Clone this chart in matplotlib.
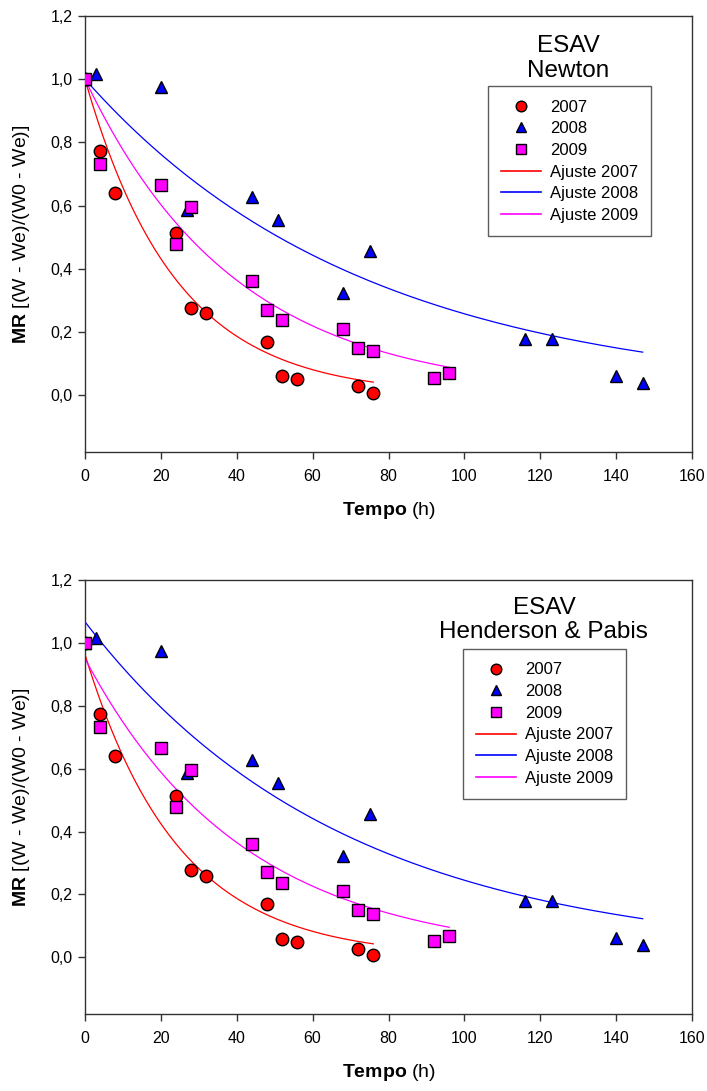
import matplotlib.pyplot as plt
import numpy as np
from matplotlib.lines import Line2D
from matplotlib.ticker import FuncFormatter

plt.rcParams['font.family'] = ['Liberation Sans', 'DejaVu Sans']
plt.rcParams['mathtext.fontset'] = 'custom'
plt.rcParams['mathtext.rm'] = 'Liberation Sans'
plt.rcParams['mathtext.bf'] = 'Liberation Sans:bold'

# dados experimentais
t_2007 = [0, 4, 8, 24, 28, 32, 48, 52, 56, 72, 76]
mr_2007 = [1.0, 0.773, 0.64, 0.514, 0.277, 0.26, 0.169, 0.06, 0.05, 0.028, 0.008]

t_2008 = [0, 3, 20, 27, 44, 51, 68, 75, 116, 123, 140, 147]
mr_2008 = [1.0, 1.015, 0.975, 0.587, 0.627, 0.553, 0.323, 0.455, 0.179, 0.179, 0.062, 0.039]

t_2009 = [0, 4, 20, 24, 28, 44, 48, 52, 68, 72, 76, 92, 96]
mr_2009 = [1.0, 0.732, 0.666, 0.479, 0.597, 0.36, 0.271, 0.237, 0.21, 0.15, 0.139, 0.053, 0.069]

# parametros dos ajustes: MR = a * exp(-k t)
years = ['2007', '2008', '2009']
t_end = [76, 147, 96]
k_newton = [0.0420, 0.01357, 0.0253]
a_newton = [1.0, 1.0, 1.0]
k_hp = [0.0409, 0.0147, 0.0239]
a_hp = [0.963, 1.067, 0.950]

cores = ['#ff0000', '#0000ff', '#ff00ff']
marcadores = ['o', '^', 's']
tamanhos = [9, 8.5, 8]
dados = [(t_2007, mr_2007), (t_2008, mr_2008), (t_2009, mr_2009)]

fig = plt.figure(figsize=(7.07, 10.91), dpi=100)


def painel(rect, titulo, a_list, k_list, tit_x, tit_y, leg_x, leg_y):
    ax = fig.add_axes(rect)

    # pontos
    for (t, mr), c, m, s in zip(dados, cores, marcadores, tamanhos):
        ax.plot(t, mr, linestyle='none', marker=m, markersize=s,
                markerfacecolor=c, markeredgecolor='black', markeredgewidth=1.0, zorder=3)
    # curvas de ajuste
    for a, k, te, c in zip(a_list, k_list, t_end, cores):
        tt = np.linspace(0, te, 200)
        ax.plot(tt, a * np.exp(-k * tt), color=c, linewidth=0.9, zorder=2)

    ax.set_xlim(0, 160)
    ax.set_ylim(-0.18, 1.2)
    ax.set_xticks(range(0, 161, 20))
    ax.set_yticks(np.arange(0, 1.21, 0.2))
    ax.yaxis.set_major_formatter(FuncFormatter(lambda v, p: f'{v:.1f}'.replace('.', ',')))
    ax.tick_params(direction='out', length=5, width=1, labelsize=11.5, color='#333333')
    ax.tick_params(axis='x', pad=7)
    ax.tick_params(axis='y', pad=4)
    for sp in ax.spines.values():
        sp.set_color('#333333')
        sp.set_linewidth(1.0)

    ax.set_xlabel(r'$\mathbf{Tempo}$ (h)', fontsize=14, labelpad=12)
    ax.set_ylabel(r'$\mathbf{MR}$ [(W - We)/(W0 - We)]', fontsize=14, labelpad=13)

    ax.text(tit_x, tit_y, titulo, transform=ax.transAxes, ha='center', va='center',
            fontsize=17.5, linespacing=1.12)

    # legenda
    handles = [Line2D([], [], linestyle='none', marker=m, markersize=s * 0.85,
                      markerfacecolor=c, markeredgecolor='black', markeredgewidth=1.0)
               for c, m, s in zip(cores, marcadores, tamanhos)]
    handles += [Line2D([], [], color=c, linewidth=1.2) for c in cores]
    labels = years + ['Ajuste ' + y for y in years]
    leg = ax.legend(handles, labels, loc='upper left', bbox_to_anchor=(leg_x, leg_y),
                    fontsize=12, frameon=True, fancybox=False, handlelength=2.35,
                    handletextpad=0.55, labelspacing=0.4, borderpad=0.8, borderaxespad=0)
    leg.get_frame().set_edgecolor('#333333')
    leg.get_frame().set_linewidth(1.0)
    return ax


W, H = 707, 1091
painel([85 / W, 1 - 452 / H, 607 / W, 436 / H], 'ESAV\nNewton',
       a_newton, k_newton, 0.796, 0.9025, 0.664, 0.839)
painel([85 / W, 1 - 1014 / H, 607 / W, 434 / H], 'ESAV\nHenderson & Pabis',
       a_hp, k_hp, 0.756, 0.907, 0.623, 0.841)

plt.savefig('out.png', dpi=100)
plt.close()
